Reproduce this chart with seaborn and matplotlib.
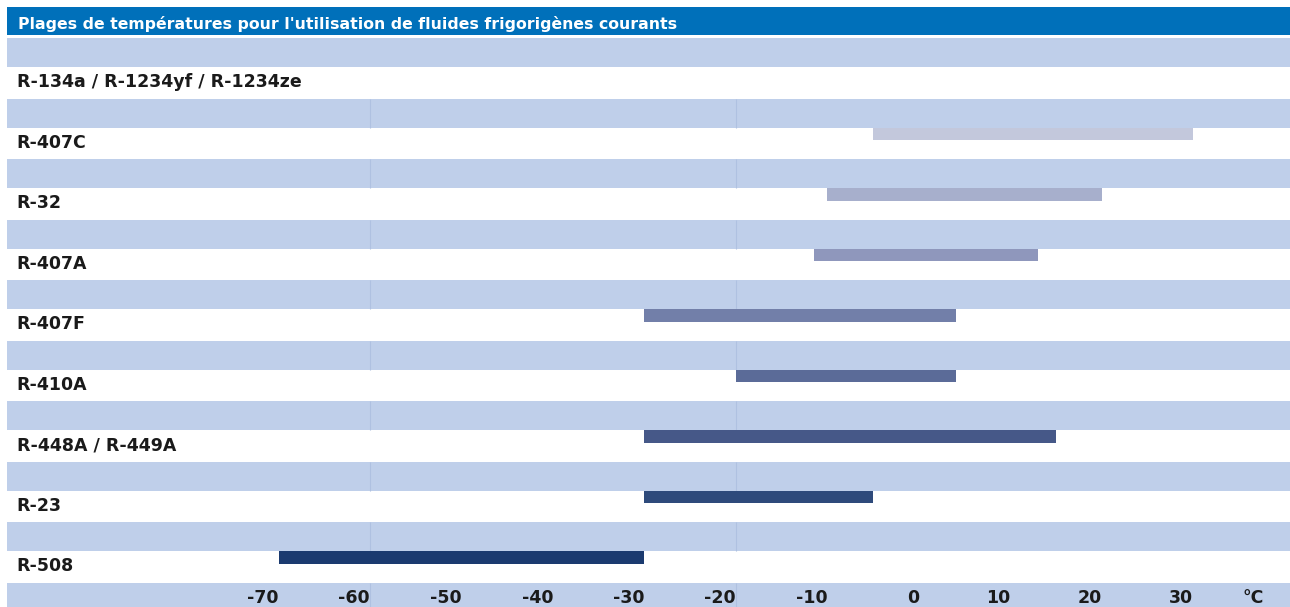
import numpy as np
import pandas as pd
import matplotlib
matplotlib.use('Agg')
import matplotlib.pyplot as plt
import seaborn as sns

# ===================== données =====================
titre = "Plages de températures pour l'utilisation de fluides frigorigènes courants"
fluides = ['R-134a / R-1234yf / R-1234ze', 'R-407C', 'R-32', 'R-407A', 'R-407F',
           'R-410A', 'R-448A / R-449A', 'R-23', 'R-508']
t_min = [np.nan, -5, -10, -11.5, -30, -20, -30, -30, -70]
t_max = [np.nan, 30, 20, 13, 4, 4, 15, -5, -30]
couleurs = ['#FFFFFF', '#C3C8DC', '#A7AFCC', '#8F97BC', '#727FA9',
            '#5B6B98', '#465888', '#2E4A7B', '#1B3A6F']
graduations = [-70, -60, -50, -40, -30, -20, -10, 0, 10, 20, 30]
unite = '°C'

# ===================== style =====================
sns.set_style('white')
plt.rcParams['font.family'] = ['DejaVu Sans']
plt.rcParams['axes.unicode_minus'] = False

BLEU_TITRE = '#0070BA'
BANDE = '#BFCFEA'
TRAIT = '#AFC1E1'
TEXTE = '#1A1A1A'

df = pd.DataFrame({'fluide': fluides, 'rang': np.arange(len(fluides)),
                   'debut': t_min, 'fin': t_max, 'couleur': couleurs})
df['etendue'] = df['fin'] - df['debut']
barres = df.dropna(subset=['etendue'])

fig = plt.figure(figsize=(12.9, 6.07), dpi=100)
ax = fig.add_axes([0, 0, 1, 1])

# barres flottantes : largeur = étendue, départ = t_min
sns.barplot(data=barres, x='etendue', y='rang', orient='h', native_scale=True,
            width=0.2, left=barres['debut'].to_numpy(), errorbar=None,
            color=couleurs[1], linewidth=0, ax=ax, zorder=3)
for patch, c in zip(ax.patches, barres['couleur']):
    patch.set_facecolor(c)

# bandes alternées (une au-dessus de chaque ligne + bande des graduations)
x0 = 7 / 1290
for r in range(len(fluides) + 1):
    ax.axhspan(r - 0.58, r - 0.1, xmin=x0, xmax=1, color=BANDE, lw=0, zorder=1)
    if r > 0:
        ax.vlines([-60, -20], r - 0.58, r - 0.1, color=TRAIT, lw=0.8, zorder=2)

# bandeau du titre
ax.axhspan(-1.099, -0.636, xmin=x0, xmax=1, color=BLEU_TITRE, lw=0, zorder=1)
ax.text(-98.5, -0.73, titre, color='white', fontsize=11.3, fontweight='bold',
        ha='left', va='baseline', zorder=4)

# noms des fluides
for r, nom in enumerate(fluides):
    ax.text(-98.6, r + 0.23, nom, color=TEXTE, fontsize=12.5, fontweight='bold',
            ha='left', va='baseline', zorder=4)

# graduations de température
y_grad = len(fluides) - 0.25
for g in graduations:
    ax.text(g, y_grad, f'{g}', color=TEXTE, fontsize=12.5, fontweight='bold',
            ha='right', va='baseline', zorder=4)
ax.text(37.7, y_grad, unite, color=TEXTE, fontsize=12.5, fontweight='bold',
        ha='right', va='baseline', zorder=4)

ax.set_xlim(-100.44, 40.55)
ax.set_ylim(8.818, -1.215)
ax.set_axis_off()

fig.savefig('out.png', dpi=100, facecolor='white')
